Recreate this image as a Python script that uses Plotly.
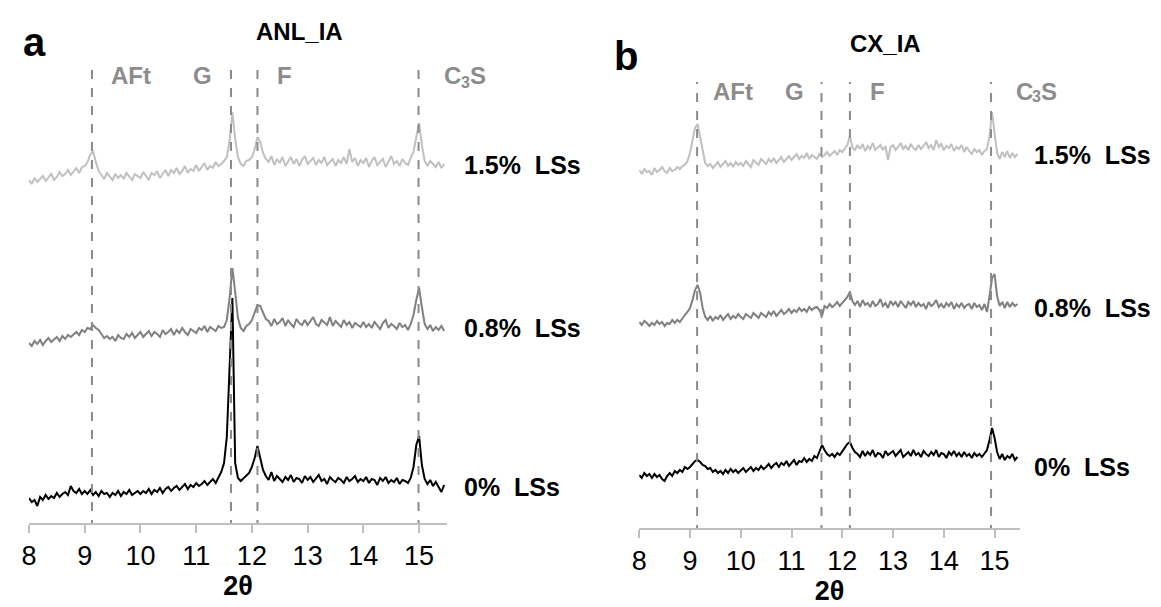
import numpy as np
import plotly.graph_objects as go

W, H = 1161, 607

# 2-theta sampling grid (degrees)
two_theta = np.round(np.arange(8.00, 15.451, 0.05), 2)

# ---- Panel a : ANL_IA (intensities, arbitrary offset units) ----
anl_15 = [343,339,345,341,344,347,342,345,349,343,346,351,347,349,353,348,352,355,350,356,
          357,361,368,372,361,352,348,344,350,346,
          343,349,345,348,344,350,346,343,349,347,
          345,351,347,343,350,348,352,345,349,353,
          347,353,350,355,349,352,357,350,354,352,
          358,352,356,360,353,357,355,361,357,359,
          362,366,382,411,384,366,359,357,362,363,
          366,374,386,381,370,364,361,367,358,364,
          360,366,357,362,366,359,364,357,363,367,
          359,362,365,358,363,360,366,358,361,364,
          357,363,360,366,359,374,361,365,357,363,
          360,365,356,362,366,358,361,364,356,362,
          367,359,362,357,364,360,358,365,371,386,
          400,378,362,357,362,359,356,361,355,359]
anl_08 = [180,177,182,179,183,178,182,185,181,184,186,182,187,184,188,186,189,191,188,193,
          191,195,194,198,195,193,189,185,187,184,
          186,182,188,185,184,189,186,190,185,188,
          191,186,189,192,187,191,189,186,193,189,
          191,194,188,193,190,195,191,188,194,192,
          190,195,193,197,191,196,194,192,197,195,
          196,203,225,255,231,205,195,192,197,199,
          203,211,218,217,210,204,202,197,204,199,
          201,205,197,203,199,196,204,200,198,203,
          198,202,206,199,197,203,200,198,206,197,
          202,199,196,203,198,201,195,200,198,196,
          201,196,199,195,201,197,194,200,203,195,
          199,197,194,200,196,198,193,199,208,223,
          235,216,199,194,198,192,196,193,197,192]
anl_00 = [25,21,23,17,26,23,28,24,27,25,30,26,29,31,28,37,32,30,34,29,
          32,29,33,28,31,27,32,29,30,26,
          30,28,32,27,31,29,33,28,30,32,
          29,32,30,34,29,33,31,35,30,34,
          36,32,35,37,33,36,39,34,38,36,
          40,37,39,42,38,41,44,40,46,51,
          60,86,156,225,60,45,42,45,47,50,
          56,65,77,66,53,47,43,51,42,47,
          44,41,46,43,48,41,45,44,40,47,
          43,46,41,45,48,42,44,39,46,43,
          41,45,43,40,46,42,44,47,41,44,
          42,46,40,44,43,38,45,42,46,40,
          43,41,45,39,43,42,40,45,56,78,
          87,58,44,39,43,37,41,36,31,38]

# ---- Panel b : CX_IA ----
cx_15 = [358,354,359,356,357,353,360,356,358,361,357,355,360,357,358,361,359,362,363,367,
         375,386,400,404,391,375,365,362,364,360,
         363,366,361,364,367,362,365,361,366,363,
         365,362,367,364,361,368,365,363,369,366,
         364,369,366,370,365,368,371,366,369,372,
         368,371,374,369,372,370,375,369,373,371,
         369,374,371,373,376,372,375,377,373,378,
         376,380,383,392,380,378,383,379,384,377,
         382,379,385,378,381,383,378,382,368,381,
         383,378,381,385,379,382,378,384,380,378,
         383,379,382,386,380,383,378,388,381,384,
         378,382,380,384,377,381,379,383,376,381,
         377,374,379,376,378,373,377,379,392,416,
         395,375,369,376,371,377,370,375,371,374]
cx_08 = [206,203,207,205,202,205,203,207,204,206,202,205,204,208,205,208,206,210,213,216,
         220,228,238,243,235,220,211,208,212,207,
         211,209,213,208,211,214,209,212,210,214,
         211,209,214,212,210,215,212,210,215,213,
         211,216,213,217,212,215,218,214,216,219,
         215,218,216,220,217,219,216,221,218,220,
         221,218,212,222,220,224,221,223,226,222,
         225,228,231,236,227,223,227,221,228,223,
         225,221,227,222,224,229,222,225,220,227,
         223,226,221,227,224,220,226,223,227,221,
         225,222,224,219,226,222,224,228,221,224,
         220,225,222,226,219,224,221,225,220,223,
         224,219,225,221,223,218,224,216,232,250,
         254,232,222,226,220,226,221,225,222,224]
cx_00 = [53,50,55,52,54,50,54,51,53,49,47,52,55,52,57,55,58,56,61,59,
         61,64,67,68,66,63,62,59,60,56,
         58,55,57,54,58,55,59,56,58,55,
         58,60,56,59,61,57,60,58,62,59,
         61,64,60,63,65,61,65,63,67,62,
         65,68,63,67,66,70,66,69,67,72,
         70,76,83,78,74,72,74,71,75,73,
         77,80,84,86,80,76,74,71,77,72,
         76,73,78,71,75,74,70,77,73,75,
         77,72,75,78,71,74,76,72,78,73,
         75,71,77,74,72,76,73,78,71,75,
         74,70,76,73,77,72,75,71,76,72,
         74,70,75,72,74,71,75,78,88,100,
         90,76,69,74,68,72,70,74,68,71]

series_labels = ["1.5% LSs", "0.8% LSs", "0% LSs"]
series_colors = ["#c0c0c0", "#808080", "#000000"]
phase_labels = ["AFt", "G", "F"]
c3s_parts = ["C", "3", "S"]
phases_a = [9.13, 11.625, 12.10, 14.99]
phases_b = [9.14, 11.59, 12.15, 14.93]
tick_vals = [8, 9, 10, 11, 12, 13, 14, 15]


def px(x):
    return x / W


def py(y):
    return 1 - y / H


fig = go.Figure()

for ys, col in zip([anl_15, anl_08, anl_00], series_colors):
    fig.add_trace(go.Scatter(x=two_theta, y=ys, mode="lines", xaxis="x", yaxis="y",
                             line=dict(color=col, width=2), showlegend=False, hoverinfo="skip"))
for ys, col in zip([cx_15, cx_08, cx_00], series_colors):
    fig.add_trace(go.Scatter(x=two_theta, y=ys, mode="lines", xaxis="x2", yaxis="y2",
                             line=dict(color=col, width=2), showlegend=False, hoverinfo="skip"))

# axis geometry (pixels)
ax_a = dict(x0=21.1, x1=442.0, top=60, bottom=523)
ax_b = dict(x0=635.6, x1=1019.0, top=60, bottom=528)

F = "Liberation Sans, Arial"
xcommon = dict(range=[8, 15.5], tickvals=tick_vals, ticks="outside", ticklen=8,
               tickcolor="#bfbfbf", tickwidth=1.5, showline=True, linecolor="#bfbfbf",
               linewidth=1.5, showgrid=False, zeroline=False,
               tickfont=dict(family=F, size=27, color="#000000"),
               title=dict(text="<b>2θ</b>", font=dict(family=F, size=27, color="#000000"),
                          standoff=4))

fig.update_layout(
    width=W, height=H, margin=dict(l=0, r=0, t=0, b=0),
    paper_bgcolor="white", plot_bgcolor="white",
    xaxis=dict(domain=[px(ax_a["x0"]), px(ax_a["x1"])], anchor="y", **xcommon),
    xaxis2=dict(domain=[px(ax_b["x0"]), px(ax_b["x1"])], anchor="y2", **xcommon),
    yaxis=dict(domain=[py(ax_a["bottom"]), py(ax_a["top"])], range=[0, ax_a["bottom"] - ax_a["top"]],
               visible=False, anchor="x"),
    yaxis2=dict(domain=[py(ax_b["bottom"]), py(ax_b["top"])], range=[0, ax_b["bottom"] - ax_b["top"]],
                visible=False, anchor="x2"),
)

shapes = []
for xv in phases_a:
    shapes.append(dict(type="line", xref="x", yref="y", x0=xv, x1=xv, y0=-6, y1=523 - 67,
                       line=dict(color="#8a8a8a", width=2, dash="dash")))
for xv in phases_b:
    shapes.append(dict(type="line", xref="x2", yref="y2", x0=xv, x1=xv, y0=-6, y1=528 - 82,
                       line=dict(color="#8a8a8a", width=2, dash="dash")))
fig.update_layout(shapes=shapes)

ann = []


def text(x, y, s, size, color="#000000", xanchor="center"):
    ann.append(dict(x=px(x), y=py(y), xref="paper", yref="paper", text=s, showarrow=False,
                    xanchor=xanchor, yanchor="middle",
                    font=dict(family=F, size=size, color=color)))


# panel letters and titles
text(27, 42, "<b>a</b>", 40)
text(294, 31, "<b>ANL_IA</b>", 24)
text(622, 56, "<b>b</b>", 40)
text(884, 44, "<b>CX_IA</b>", 24)

# phase labels
GR = "#8c8c8c"
for xx, s in zip([124, 196, 278], phase_labels):
    text(xx, 76, "<b>%s</b>" % s, 24, GR)
for xx, s in zip([730, 792, 876], phase_labels):
    text(xx, 91, "<b>%s</b>" % s, 24, GR)


def c3s(xc, yc):
    # C, subscript 3, S laid out as three pieces
    text(xc - 21.5, yc, "<b>%s</b>" % c3s_parts[0], 24, GR, "left")
    text(xc - 4.5, yc + 6, "<b>%s</b>" % c3s_parts[1], 16, GR, "left")
    text(xc + 4.2, yc, "<b>%s</b>" % c3s_parts[2], 24, GR, "left")


c3s(459, 76)
c3s(1034, 91)

# series labels
for yy, s in zip([165, 328, 487], series_labels):
    text(457, yy, "<b>%s</b>" % s.replace(" ", "&nbsp; "), 25, xanchor="left")
for yy, s in zip([155, 308, 467], series_labels):
    text(1031, yy, "<b>%s</b>" % s.replace(" ", "&nbsp; "), 25, xanchor="left")

fig.update_layout(annotations=ann)
fig.write_html("out.html")
